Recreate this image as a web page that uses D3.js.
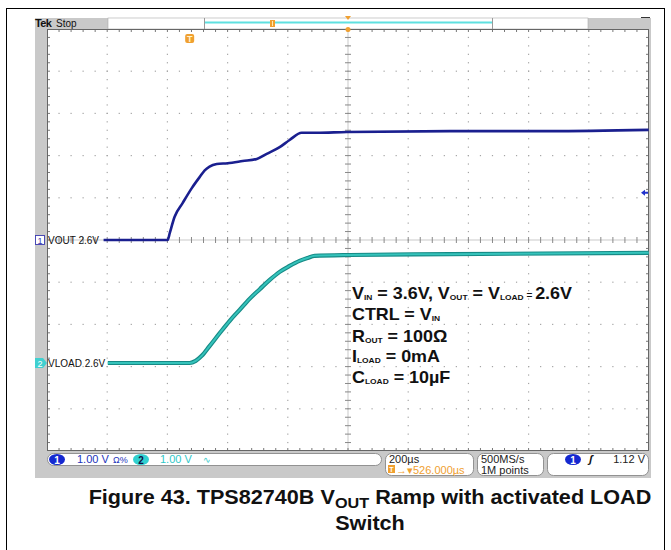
<!DOCTYPE html>
<html><head><meta charset="utf-8">
<script src="https://cdn.jsdelivr.net/npm/d3@7"></script>
<style>body{margin:0;background:#fff}svg{display:block}</style>
</head><body><svg id="c" width="671" height="550"></svg>
<script>
// ---- data (time in µs relative to trigger, volts) ----
const voutTime = [-286, -73, -66, -50, -23, 7, 33, 50, 66, 90, 126, 176, 223, 256, 299, 332, 372, 422, 522, 864, 1196, 1525];
const voutV    = [0, 0, 0.17, 0.55, 0.88, 1.23, 1.49, 1.65, 1.74, 1.80, 1.82, 1.87, 1.92, 2.04, 2.20, 2.37, 2.54, 2.54, 2.56, 2.58, 2.58, 2.61];
const vloadTime = [-272, -133, 0, 20, 40, 66, 100, 133, 166, 199, 233, 266, 299, 332, 365, 392, 415, 532, 864, 1525];
const vloadV    = [0, 0, 0, 0.05, 0.17, 0.40, 0.71, 1.00, 1.26, 1.52, 1.75, 1.97, 2.16, 2.30, 2.42, 2.49, 2.54, 2.56, 2.58, 2.61];
const timeDomain = [-474, 1526];          // 200 µs/div, trigger 526 µs left of centre
const ch1Domain = [-5, 5];                // 1.00 V/div
const ch2Domain = [-2.085, 7.915];        // 1.00 V/div
const triggerLevel = 1.12;
const channelLabels = ["VOUT 2.6V", "VLOAD 2.6V"];
const annotationLines = [
  [["V",""],["IN","s"],[" = 3.6V, V",""],["OUT","s"],[" = V",""],["LOAD","s"],[" = ","e"],["2.6V",""]],
  [["CTRL = V",""],["IN","s"]],
  [["R",""],["OUT","s"],[" = 100Ω",""]],
  [["I",""],["LOAD","s"],[" = 0mA",""]],
  [["C",""],["LOAD","s"],[" = 10µF",""]]
];

const svg = d3.select("#c");
const L = 47, R = 649, T = 29, B = 451;
const x = d3.scaleLinear().domain(timeDomain).range([L, R]);
const y1 = d3.scaleLinear().domain(ch1Domain).range([B, T]);
const y2 = d3.scaleLinear().domain(ch2Domain).range([B, T]);
const F = "'Liberation Sans', Arial, sans-serif";

// outer frame
svg.append("rect").attr("x",6.5).attr("y",8.5).attr("width",658).attr("height",600)
  .attr("fill","none").attr("stroke","#000").attr("stroke-width",1);

// scope screen grey
svg.append("rect").attr("x",35).attr("y",18).attr("width",616).attr("height",460).attr("fill","#c9c9c9");
// top bar
svg.append("rect").attr("x",108).attr("y",18).attr("width",480).attr("height",11).attr("fill","#fff").attr("stroke","#aaa").attr("stroke-width",0.6);
svg.append("line").attr("x1",204.5).attr("x2",204.5).attr("y1",18).attr("y2",29).attr("stroke","#999");
svg.append("line").attr("x1",492.5).attr("x2",492.5).attr("y1",18).attr("y2",29).attr("stroke","#999");
svg.append("line").attr("x1",205).attr("x2",492).attr("y1",22.5).attr("y2",22.5).attr("stroke","#5fe0e0").attr("stroke-width",2);
svg.append("text").attr("x",35).attr("y",27).attr("font-family",F).attr("font-size",11).attr("font-weight","bold").attr("fill","#111").attr("letter-spacing",-0.6).text("Tek");
svg.append("text").attr("x",56).attr("y",27).attr("font-family",F).attr("font-size",10).attr("fill","#111").text("Stop");
svg.append("line").attr("x1",641).attr("x2",650).attr("y1",17.5).attr("y2",17.5).attr("stroke","#333").attr("stroke-width",1);
// small orange record marker
svg.append("rect").attr("x",270).attr("y",20).attr("width",5).attr("height",7).attr("fill","#f0a030");
svg.append("line").attr("x1",272.5).attr("x2",272.5).attr("y1",21).attr("y2",26).attr("stroke","#ffe8b0").attr("stroke-width",1);
// orange expansion point marker
svg.append("path").attr("d",`M${x(526)-3},16 L${x(526)+3},16 L${x(526)},20 Z`).attr("fill","#f0a030");

// plot area
svg.append("rect").attr("x",L).attr("y",T).attr("width",R-L).attr("height",B-T).attr("fill","#fff");

const g = svg.append("g");
const dx = (R-L)/50, dy = (B-T)/50;
const cx = (L+R)/2, cy = (T+B)/2;
// dotted grid
for (let i=1;i<10;i++){
  const gx = L + i*(R-L)/10;
  if (i===5) continue;
  for (let j=1;j<50;j++){ g.append("rect").attr("x",gx-0.6).attr("y",T+j*dy-0.6).attr("width",1.2).attr("height",1.2).attr("fill","#a5a5a5"); }
}
for (let i=1;i<10;i++){
  const gy = T + i*(B-T)/10;
  if (i===5) continue;
  for (let j=1;j<50;j++){ g.append("rect").attr("x",L+j*dx-0.6).attr("y",gy-0.6).attr("width",1.2).attr("height",1.2).attr("fill","#a5a5a5"); }
}
// centre lines with ticks
g.append("line").attr("x1",L).attr("x2",R).attr("y1",cy).attr("y2",cy).attr("stroke","#bbb").attr("stroke-width",0.8);
g.append("line").attr("x1",cx).attr("x2",cx).attr("y1",T).attr("y2",B).attr("stroke","#bbb").attr("stroke-width",0.8);
for (let j=1;j<50;j++){
  const tx = L+j*dx, ty = T+j*dy;
  g.append("line").attr("x1",tx).attr("x2",tx).attr("y1",cy-3).attr("y2",cy+3).attr("stroke","#888");
  g.append("line").attr("x1",cx-3).attr("x2",cx+3).attr("y1",ty).attr("y2",ty).attr("stroke","#888");
  g.append("line").attr("x1",tx).attr("x2",tx).attr("y1",T).attr("y2",T+3).attr("stroke","#777");
  g.append("line").attr("x1",tx).attr("x2",tx).attr("y1",B-3).attr("y2",B).attr("stroke","#777");
  g.append("line").attr("x1",L).attr("x2",L+3).attr("y1",ty).attr("y2",ty).attr("stroke","#777");
  g.append("line").attr("x1",R-3).attr("x2",R).attr("y1",ty).attr("y2",ty).attr("stroke","#777");
}
// border
svg.append("rect").attr("x",L+0.5).attr("y",T+0.5).attr("width",R-L-1).attr("height",B-T-1).attr("fill","none").attr("stroke","#666").attr("stroke-width",1);
svg.append("circle").attr("cx",x(526)).attr("cy",T+0.5).attr("r",2.5).attr("fill","#f0a030");

// trigger position marker "T"
const tx0 = x(0);
svg.append("rect").attr("x",tx0-4.5).attr("y",34).attr("width",9).attr("height",9).attr("rx",2).attr("fill","#f0a030");
svg.append("text").attr("x",tx0).attr("y",42).attr("text-anchor","middle").attr("font-family",F).attr("font-size",9).attr("font-weight","bold").attr("fill","#fff5d0").text("T");

// traces
const line1 = d3.line().x((d,i)=>x(voutTime[i])).y((d,i)=>y1(voutV[i])).curve(d3.curveMonotoneX);
const line2 = d3.line().x((d,i)=>x(vloadTime[i])).y((d,i)=>y2(vloadV[i])).curve(d3.curveMonotoneX);
svg.append("path").datum(vloadV).attr("d",line2).attr("fill","none").attr("stroke","#168a86").attr("stroke-width",4.2);
svg.append("path").datum(vloadV).attr("d",line2).attr("fill","none").attr("stroke","#35c3bb").attr("stroke-width",2);
svg.append("path").datum(voutV).attr("d",line1).attr("fill","none").attr("stroke","#1a1f8f").attr("stroke-width",2.6);

// channel markers and labels
const m1 = y1(0), m2 = y2(0);
svg.append("rect").attr("x",35.5).attr("y",m1-4.5).attr("width",9).attr("height",9).attr("fill","#fff").attr("stroke","#3a3ab0").attr("stroke-width",0.9);
svg.append("text").attr("x",40).attr("y",m1+3.5).attr("text-anchor","middle").attr("font-family",F).attr("font-size",9).attr("fill","#3a3ab0").text("1");
svg.append("path").attr("d",`M35,${m2-5} L43,${m2-5} L47,${m2} L43,${m2+5} L35,${m2+5} Z`).attr("fill","#40d0d0");
svg.append("text").attr("x",40).attr("y",m2+3.5).attr("text-anchor","middle").attr("font-family",F).attr("font-size",9).attr("fill","#fff").text("2");
svg.append("text").attr("x",48).attr("y",m1+4).attr("font-family",F).attr("font-size",10).attr("fill","#111").text(channelLabels[0]);
svg.append("text").attr("x",48).attr("y",m2+4).attr("font-family",F).attr("font-size",10).attr("fill","#111").text(channelLabels[1]);

// trigger level arrow (right)
const ty1 = y1(triggerLevel);
svg.append("path").attr("d",`M641,${ty1} L645,${ty1-3} L645,${ty1-1} L648,${ty1-1} L648,${ty1+1} L645,${ty1+1} L645,${ty1+3} Z`).attr("fill","#2233cc");

// annotation (horizontally stretched like the source image)
const ann = svg.append("g").attr("transform","translate(352,0) scale(1.12,1) translate(-352,0)");
annotationLines.forEach((ln,i)=>{
  const t = ann.append("text").attr("x",352).attr("y",[299,320,342,362,383][i]).attr("font-family",F).attr("font-weight","bold").attr("font-size",16).attr("fill","#111");
  let base = 0;
  ln.forEach(([s,k])=>{
    const ts = t.append("tspan").text(s);
    let off = 0, fs = 16;
    if (k==="s") { fs = 7.5; off = 1; }
    else if (k==="e") { fs = 9; off = -1; }
    ts.attr("font-size",fs).attr("dy",off-base);
    base = off;
  });
});

// status bar
const SF = "'Liberation Sans', Arial, sans-serif";
function box(x0,x1,y0,y1){ svg.append("rect").attr("x",x0+0.5).attr("y",y0+0.5).attr("width",x1-x0).attr("height",y1-y0).attr("rx",6).attr("fill","#fff").attr("stroke","#888").attr("stroke-width",0.9); }
box(47,381,453,465);
box(385,473,453,475);
box(477,543,453,475);
box(547,648,453,475);
function chip(cxp,cyp,fill,txt,tc){
  svg.append("ellipse").attr("cx",cxp).attr("cy",cyp).attr("rx",8).attr("ry",5.5).attr("fill",fill);
  svg.append("text").attr("x",cxp).attr("y",cyp+4).attr("text-anchor","middle").attr("font-family",SF).attr("font-size",10).attr("font-weight","bold").attr("fill",tc).text(txt);
}
chip(57,459.5,"#1428d0","1","#fff");
svg.append("text").attr("x",77).attr("y",463).attr("font-family",SF).attr("font-size",11).attr("fill","#2233bb").text("1.00 V");
svg.append("text").attr("x",113).attr("y",463).attr("font-family",SF).attr("font-size",9).attr("fill","#2233bb").text("Ω%");
chip(141,459.5,"#30d0d0","2","#114");
svg.append("text").attr("x",160).attr("y",463).attr("font-family",SF).attr("font-size",11).attr("fill","#30c8c8").text("1.00 V");
svg.append("text").attr("x",203).attr("y",463).attr("font-family",SF).attr("font-size",9).attr("fill","#30c8c8").text("∿");
svg.append("text").attr("x",389).attr("y",463).attr("font-family",SF).attr("font-size",11).attr("fill","#222").text("200µs");
svg.append("rect").attr("x",388).attr("y",465).attr("width",7).attr("height",8).attr("fill","#f0a030");
svg.append("text").attr("x",391.5).attr("y",472).attr("text-anchor","middle").attr("font-family",SF).attr("font-size",7).attr("font-weight","bold").attr("fill","#fff").text("T");
svg.append("text").attr("x",396).attr("y",473.5).attr("font-family",SF).attr("font-size",11).attr("fill","#f0a030").text("→▾526.000µs");
svg.append("text").attr("x",481).attr("y",463).attr("font-family",SF).attr("font-size",11).attr("fill","#222").text("500MS/s");
svg.append("text").attr("x",481).attr("y",473.5).attr("font-family",SF).attr("font-size",11).attr("fill","#222").text("1M points");
chip(573,459.5,"#1428d0","1","#fff");
svg.append("text").attr("x",589).attr("y",463).attr("font-family",SF).attr("font-size",11).attr("font-style","italic").attr("font-weight","bold").attr("fill","#111").text("ʃ");
svg.append("text").attr("x",645).attr("y",463).attr("text-anchor","end").attr("font-family",SF).attr("font-size",11).attr("fill","#222").text(triggerLevel.toFixed(2)+" V");

// caption
const capG = svg.append("g").attr("transform","translate(370,0) scale(1.12,1) translate(-370,0)");
const cap = capG.append("text").attr("x",370).attr("y",504).attr("text-anchor","middle").attr("font-family",F).attr("font-weight","bold").attr("font-size",19.3).attr("fill","#111");
cap.append("tspan").text("Figure 43. TPS82740B V");
cap.append("tspan").attr("font-size",14.5).attr("dy",4).text("OUT");
cap.append("tspan").attr("dy",-4).text(" Ramp with activated LOAD");
capG.append("text").attr("x",370).attr("y",530).attr("text-anchor","middle").attr("font-family",F).attr("font-weight","bold").attr("font-size",19.3).attr("fill","#111").text("Switch");
</script></body></html>
